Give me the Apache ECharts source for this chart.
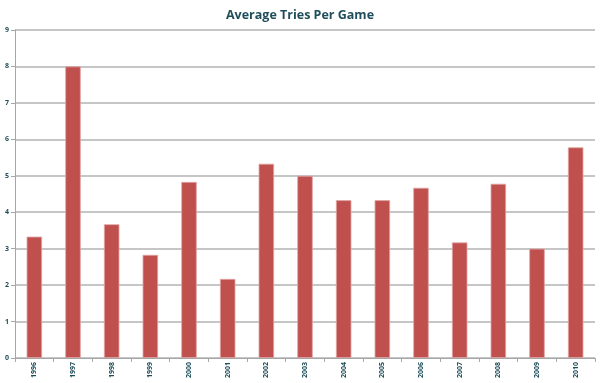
<!DOCTYPE html>
<html><head><meta charset="utf-8">
<script src="https://cdn.jsdelivr.net/npm/echarts@6/dist/echarts.min.js"></script>
<style>html,body{margin:0;padding:0;background:#fff}#c{width:600px;height:383px}</style>
</head><body><div id="c"></div>
<script>
var categories = ['1996','1997','1998','1999','2000','2001','2002','2003','2004','2005','2006','2007','2008','2009','2010'];
var triesPerGame = [3.33, 8.0, 3.67, 2.83, 4.83, 2.17, 5.33, 5.0, 4.33, 4.33, 4.67, 3.17, 4.78, 3.0, 5.78];
var titleText = 'Average Tries Per Game';
var chart = echarts.init(document.getElementById('c'));
chart.setOption({
  animation: false,
  title: { text: titleText, left: 'center', top: 4,
    textStyle: { fontFamily: 'Open Sans', fontWeight: 'bold', fontSize: 12.5, color: '#1f4e5a' } },
  grid: { left: 15, right: 5, top: 30, bottom: 25, containLabel: false },
  xAxis: { type: 'category', data: categories,
    axisLine: { lineStyle: { color: '#a6a6a6', width: 1 } },
    axisTick: { show: true, lineStyle: { color: '#a6a6a6' }, length: 4 },
    axisLabel: { rotate: 90, fontSize: 7, fontWeight: 'bold', color: '#1f4e5a', fontFamily: 'Open Sans', margin: 4 } },
  yAxis: { type: 'value', min: 0, max: 9, interval: 1,
    axisLine: { show: true, lineStyle: { color: '#a6a6a6' } },
    axisTick: { show: true, length: 4, lineStyle: { color: '#a6a6a6' } },
    axisLabel: { fontSize: 7, fontWeight: 'bold', color: '#1f4e5a', fontFamily: 'Open Sans', margin: 6 },
    splitLine: { lineStyle: { color: '#b3b3b3', width: 1.5 } } },
  series: [{ type: 'bar', data: triesPerGame, barWidth: '40%',
    itemStyle: { color: '#c0504d', borderColor: '#e0a5a3', borderWidth: 0.8 } }]
});
</script></body></html>
